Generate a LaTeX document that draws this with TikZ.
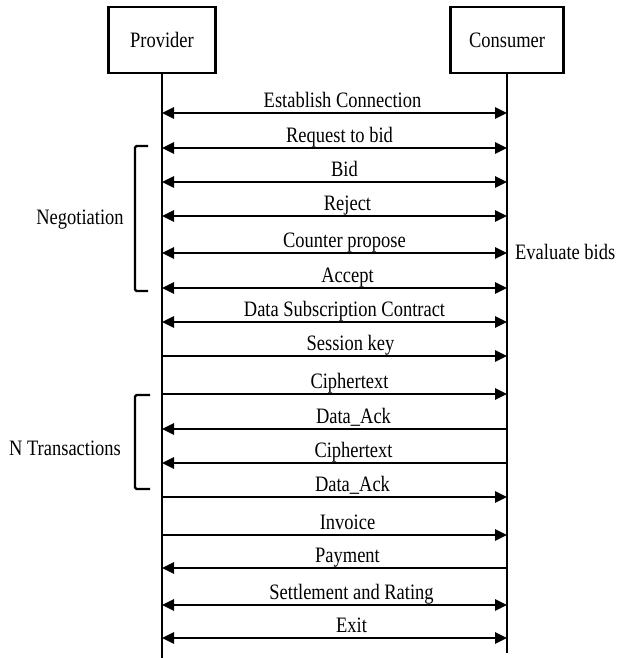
\documentclass[tikz,border=0pt]{standalone}
\usepackage{fontspec}
\setmainfont{Liberation Serif}[FakeStretch=0.84]
\usetikzlibrary{arrows.meta}
\tikzstyle{actor}=[rectangle, draw=black, line width=2.6pt, minimum height=66pt, inner sep=0pt]
\tikzstyle{life}=[line width=2.2pt, draw=black]
\tikzstyle{msgBoth}=[{Triangle[length=12pt,width=11pt]}-{Triangle[length=12pt,width=11pt]}, line width=2.6pt]
\tikzstyle{msgRight}=[-{Triangle[length=12pt,width=11pt]}, line width=2.6pt]
\tikzstyle{msgLeft}=[{Triangle[length=12pt,width=11pt]}-, line width=2.6pt]
\tikzstyle{msgText}=[anchor=base, yshift=5.5pt, xshift=13pt, inner sep=0pt]
\tikzstyle{sideText}=[inner sep=0pt]
\tikzstyle{bracket}=[line width=2.2pt, rounded corners=1.5pt]

\begin{document}
\begin{tikzpicture}[x=1pt, y=-1pt, font=\fontsize{22}{24}\selectfont]
  \useasboundingbox (0,0) rectangle (617,658);
  \node(prov) [actor, minimum width=107pt] at (162,40) {Provider};
  \node(cons) [actor, minimum width=113pt] at (507,40) {Consumer};
  \coordinate(provEnd) at (162,658);
  \coordinate(consEnd) at (507,653);
  \draw [life] (prov) -- (provEnd);
  \draw [life] (cons) -- (consEnd);
  % negotiation
  \draw [msgBoth] (prov |- 0,113) -- node(mEstablish) [msgText, xshift=-5pt] {Establish Connection} (cons |- 0,113);
  \draw [msgBoth] (prov |- 0,148) -- node(mRequest) [msgText, xshift=-8pt] {Request to bid} (cons |- 0,148);
  \draw [msgBoth] (prov |- 0,182) -- node(mBid) [msgText, xshift=-3pt] {Bid} (cons |- 0,182);
  \draw [msgBoth] (prov |- 0,216) -- node(mReject) [msgText] {Reject} (cons |- 0,216);
  \draw [msgBoth] (prov |- 0,253) -- node(mCounter) [msgText, xshift=-3pt] {Counter propose} (cons |- 0,253);
  \draw [msgBoth] (prov |- 0,288) -- node(mAccept) [msgText] {Accept} (cons |- 0,288);
  \draw [msgBoth] (prov |- 0,322) -- node(mContract) [msgText, xshift=-3pt] {Data Subscription Contract} (cons |- 0,322);
  % transactions
  \draw [msgRight] (prov |- 0,356) -- node(mKey) [msgText, xshift=3pt] {Session key} (cons |- 0,356);
  \draw [msgRight] (prov |- 0,394) -- node(mCipherA) [msgText, xshift=2pt] {Ciphertext} (cons |- 0,394);
  \draw [msgLeft] (prov |- 0,429) -- node(mAckA) [msgText, xshift=6pt] {Data\_Ack} (cons |- 0,429);
  \draw [msgLeft] (prov |- 0,463) -- node(mCipherB) [msgText, xshift=6pt] {Ciphertext} (cons |- 0,463);
  \draw [msgRight] (prov |- 0,497) -- node(mAckB) [msgText, xshift=5pt] {Data\_Ack} (cons |- 0,497);
  \draw [msgRight] (prov |- 0,535) -- node(mInvoice) [msgText] {Invoice} (cons |- 0,535);
  \draw [msgLeft] (prov |- 0,568) -- node(mPayment) [msgText] {Payment} (cons |- 0,568);
  \draw [msgBoth] (prov |- 0,605) -- node(mSettle) [msgText, xshift=4pt] {Settlement and Rating} (cons |- 0,605);
  \draw [msgBoth] (prov |- 0,638) -- node(mExit) [msgText, xshift=4pt] {Exit} (cons |- 0,638);
  % side notes
  \node(neg) [sideText] at (80,220) {Negotiation};
  \draw [bracket] (148,146) -- (135,146) -- (135,291) -- (148,291);
  \node(ntx) [sideText] at (65,448) {N Transactions};
  \draw [bracket] (150,395) -- (135,395) -- (135,489) -- (150,489);
  \node(eval) [sideText, anchor=west] at (515,252) {Evaluate bids};
\end{tikzpicture}
\end{document}
